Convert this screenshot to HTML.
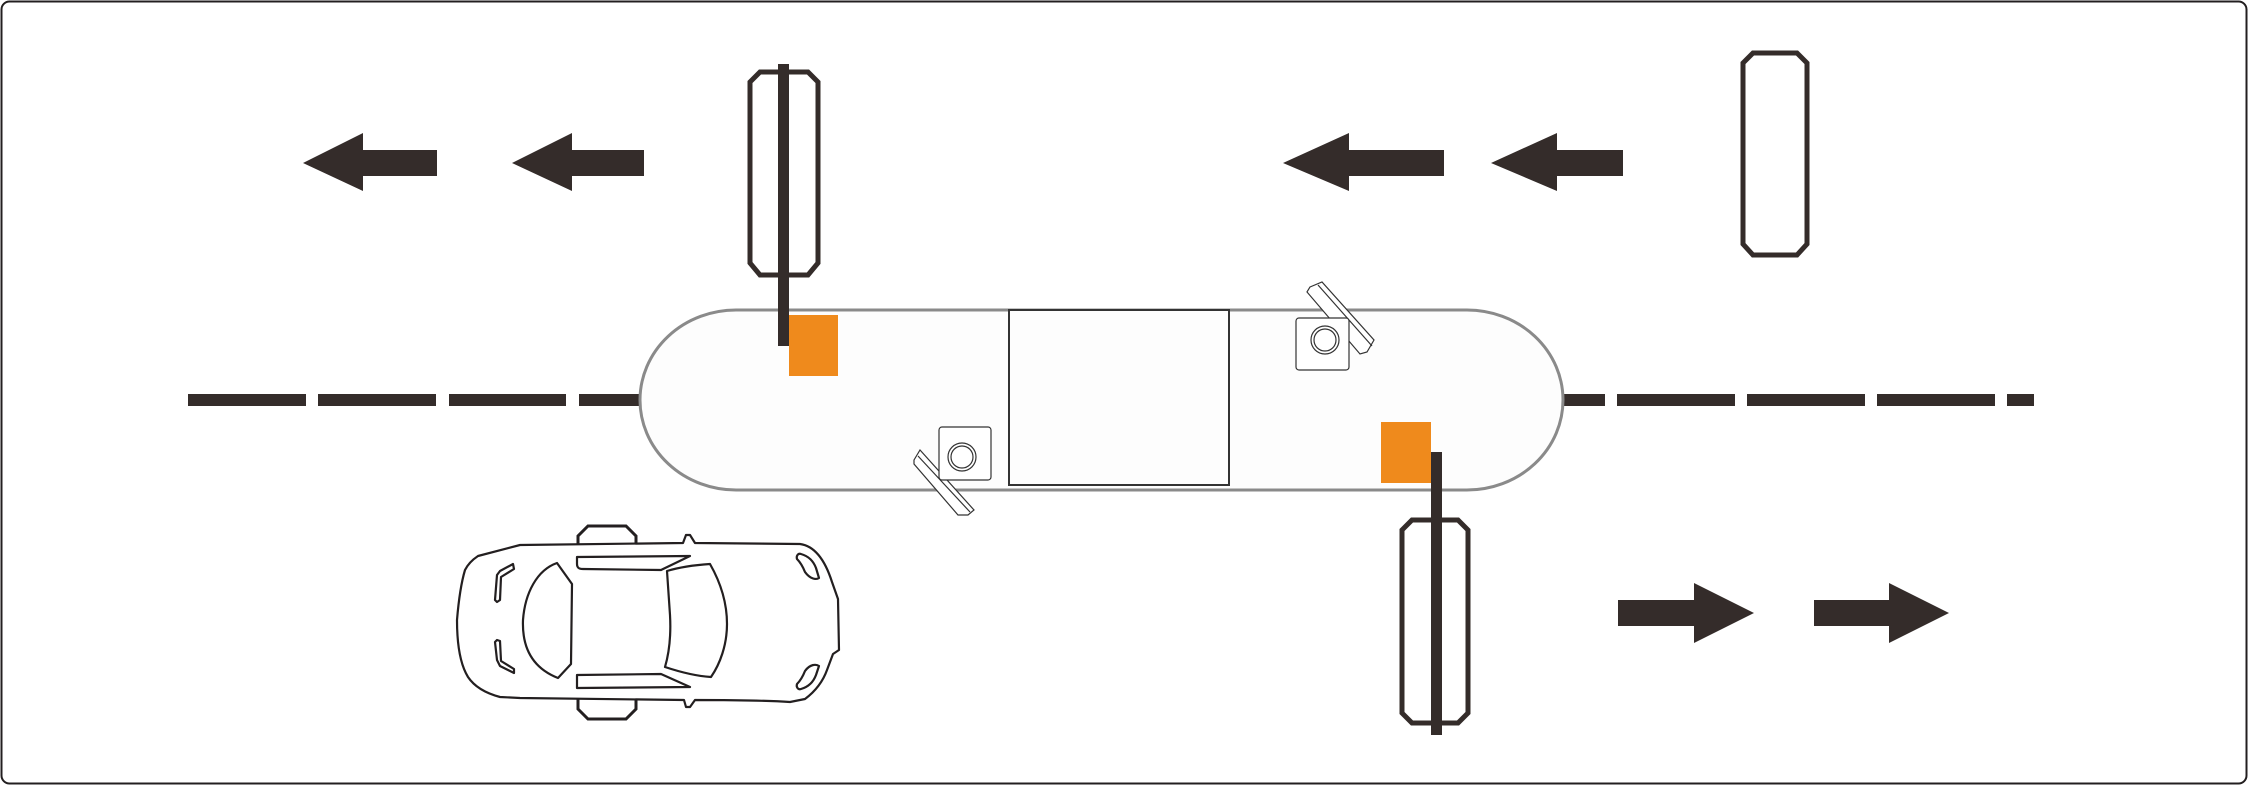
<!DOCTYPE html>
<html><head><meta charset="utf-8"><style>html,body{margin:0;padding:0;background:#fff}svg{display:block}</style></head>
<body>
<svg width="2248" height="785" viewBox="0 0 2248 785" xmlns="http://www.w3.org/2000/svg">
<rect x="1.5" y="1.5" width="2245" height="782" rx="8" fill="#fff" stroke="#231f20" stroke-width="2"/>
<g fill="#342c2a">
<rect x="188" y="394" width="118" height="12"/><rect x="318" y="394" width="118" height="12"/><rect x="449" y="394" width="117" height="12"/><rect x="579" y="394" width="70" height="12"/>
<rect x="1555" y="394" width="50" height="12"/><rect x="1617" y="394" width="118" height="12"/><rect x="1747" y="394" width="118" height="12"/><rect x="1877" y="394" width="118" height="12"/><rect x="2007" y="394" width="27" height="12"/>
<polygon points="303,163 363,133 363,150 437,150 437,176 363,176 363,191"/>
<polygon points="512,163 572,133 572,150 644,150 644,176 572,176 572,191"/>
<polygon points="1283,163 1349,133 1349,150 1444,150 1444,176 1349,176 1349,191"/>
<polygon points="1491,163 1557,133 1557,150 1623,150 1623,176 1557,176 1557,191"/>
<polygon points="1754,613 1694,583 1694,600 1618,600 1618,626 1694,626 1694,643"/>
<polygon points="1949,613 1889,583 1889,600 1814,600 1814,626 1889,626 1889,643"/>
</g>
<path d="M736,310 H1467 A96,90 0 0 1 1467,490 H736 A96,90 0 0 1 736,310 Z" fill="#fdfdfd" stroke="#8a8a8a" stroke-width="3"/>
<rect x="1009" y="310" width="220" height="175" fill="#fdfdfd" stroke="#333" stroke-width="2"/>
<g fill="#ef8a1c"><rect x="789" y="315" width="49" height="61"/><rect x="1381" y="422" width="50" height="61"/></g>
<g fill="none" stroke="#342c2a" stroke-width="5">
<polygon points="760,72 808,72 818,82 818,263 808,275 760,275 750,263 750,82"/>
<polygon points="1412,520 1458,520 1468,530 1468,713 1458,723 1412,723 1402,713 1402,530"/>
<polygon points="1753,53 1797,53 1807,63 1807,244 1797,255 1753,255 1743,244 1743,63"/>
</g>
<g fill="#342c2a"><rect x="778" y="64" width="11" height="282"/><rect x="1431" y="452" width="11" height="283"/></g>
<g fill="#fff" stroke="#333" stroke-width="1.2">
<polygon points="1310,287 1322,282 1374,340 1367,352 1360,354 1307,292"/>
<line x1="1318" y1="285" x2="1372" y2="346"/>
<rect x="1296" y="318" width="53" height="52" rx="3"/>
<circle cx="1325" cy="340" r="14"/><circle cx="1325" cy="340" r="11"/>
<polygon points="914,460 920,450 974,510 968,515 958,515 914,464"/>
<line x1="918" y1="456" x2="970" y2="512"/>
<rect x="939" y="427" width="52" height="53" rx="3"/>
<circle cx="962" cy="457" r="14"/><circle cx="962" cy="457" r="11"/>
</g>
<g fill="#fff" stroke="#231f20" stroke-width="3">
<path d="M578,545 V536 L588,526 L626,526 L636,536 V545"/>
<path d="M578,699 V709 L588,719 L626,719 L636,709 V699"/>
</g>
<g fill="#fff" stroke="#231f20" stroke-width="2.2" stroke-linejoin="round">
<path d="M520,545 L683,543 L686,535 L690,535 L695,543 L800,544 C815,546 825,560 832,582 L838,599 L839,650 L833,654 L827,670 C822,684 813,693 805,699 L790,702 Q760,700 695,700 L690,707 L686,707 L684,700 L520,698 L500,697 C485,693 474,686 468,677 C460,664 457,645 457,620 C459,596 462,580 465,570 C468,564 472,560 478,556 Z"/>
<path d="M577,557 L690,556 L661,570 L583,569 C578,569 577,567 577,564 Z"/>
<path d="M577,675 L661,674 L690,687 L577,688 C577,688 577,686 577,682 Z"/>
<path d="M557,563 L572,584 L571,664 L558,678 C530,667 522,645 523,620 C525,593 537,570 557,563 Z"/>
<path d="M667,571 C680,567 695,565 710,564 C722,585 727,605 727,624 C727,645 720,664 711,677 C695,676 680,672 665,667 C670,650 671,633 670,615 C669,600 668,585 667,571 Z"/>
<path d="M513,564 L500,571 L497,575 L495,600 L497,602 L500,600 L501,577 L514,569 Z"/>
<path d="M497,640 L500,641 L501,661 L514,669 L514,673 L500,666 L497,660 L495,642 Z"/>
<path d="M801,554 C808,556 813,560 816,568 L819,578 C816,580 810,579 805,572 C803,567 800,562 797,559 C796,556 798,553 801,554 Z"/>
<path d="M801,689 C808,687 813,683 816,675 L819,666 C816,664 810,664 805,671 C803,676 800,681 797,684 C796,687 798,690 801,689 Z"/>
</g>
</svg>
</body></html>
